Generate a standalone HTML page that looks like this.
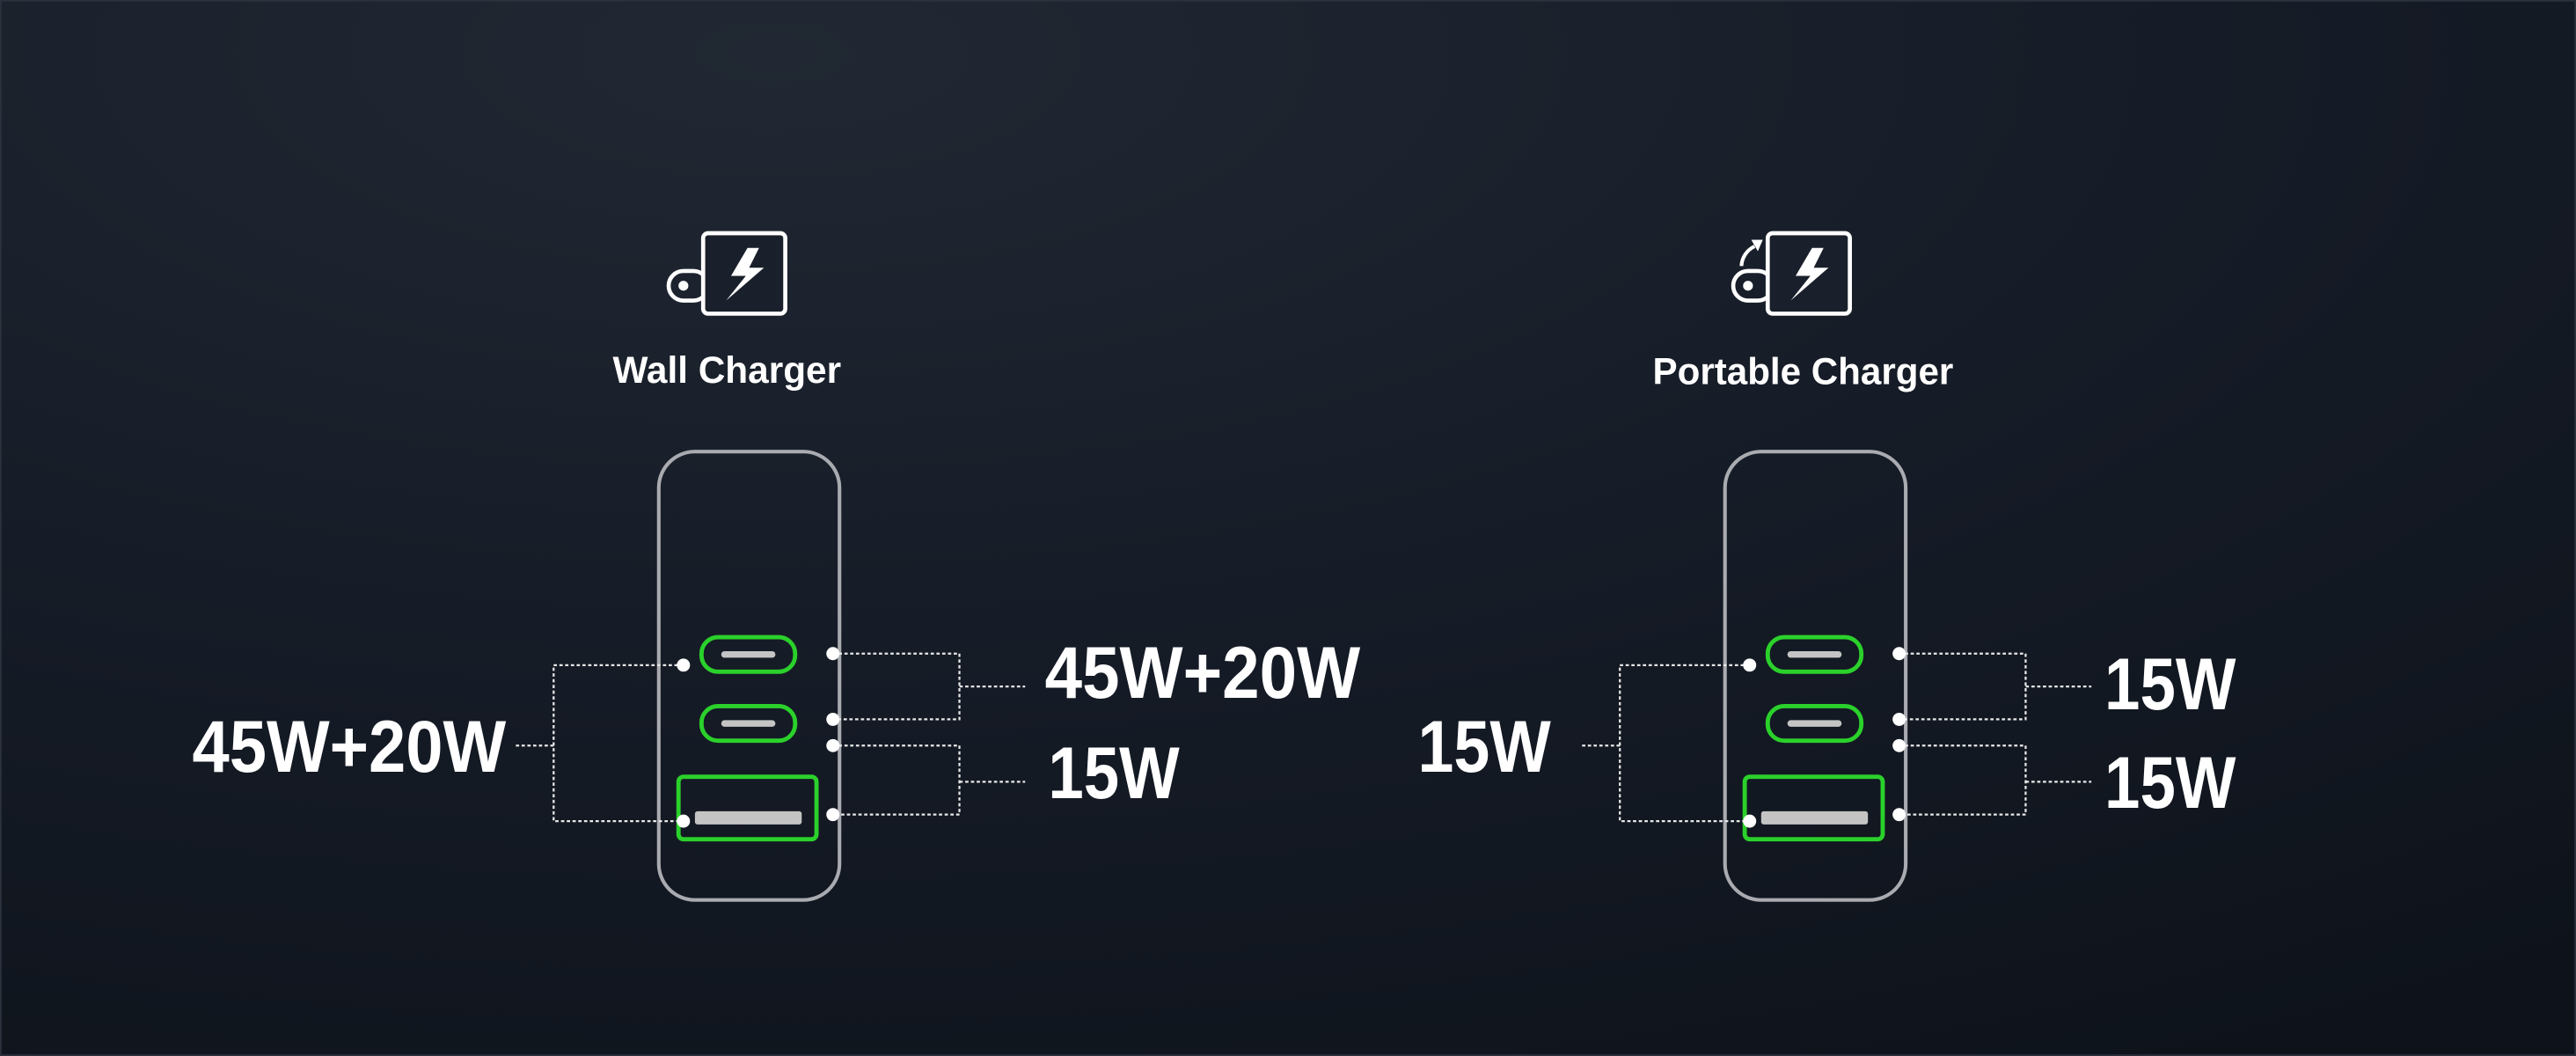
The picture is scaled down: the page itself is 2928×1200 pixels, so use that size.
<!DOCTYPE html>
<html><head><meta charset="utf-8"><style>
html,body{margin:0;padding:0;width:2928px;height:1200px;overflow:hidden;background:#141a24}
svg{display:block}
text{font-family:"Liberation Sans",sans-serif;font-weight:bold;fill:#fff}
</style></head><body>
<svg width="2928" height="1200" viewBox="0 0 1568 643" preserveAspectRatio="none" xmlns="http://www.w3.org/2000/svg">
<defs>
<radialGradient id="bg" cx="0.3" cy="0.05" r="1.1">
<stop offset="0" stop-color="#212833"/>
<stop offset="0.5" stop-color="#161c27"/>
<stop offset="1" stop-color="#0e131b"/>
</radialGradient>
<g id="plug">
<rect x="-21" y="23" width="24" height="18" rx="9" fill="none" stroke="#fff" stroke-width="2.5"/>
<circle cx="-12" cy="32" r="3" fill="#fff"/>
<rect x="0" y="0" width="50" height="49" rx="3" fill="#1a202b" stroke="#fff" stroke-width="2.5"/>
<polygon points="27,9 17,26 26,26 14,41 37,21 28,21 34,9" fill="#fff"/>
</g>
<g id="body">
<rect x="0" y="0" width="110" height="273" rx="22" fill="none" stroke="#a9abb0" stroke-width="2.2"/>
<rect x="26" y="113" width="57" height="21" rx="10" fill="none" stroke="#2bd12b" stroke-width="2.6"/>
<rect x="38" y="121.5" width="33" height="4" rx="2" fill="#c4c4c4"/>
<rect x="26" y="155" width="57" height="21" rx="10" fill="none" stroke="#2bd12b" stroke-width="2.6"/>
<rect x="38" y="163.5" width="33" height="4" rx="2" fill="#c4c4c4"/>
<rect x="12" y="198" width="84" height="38" rx="3" fill="none" stroke="#2bd12b" stroke-width="2.6"/>
<rect x="22" y="219" width="65" height="8" rx="1.5" fill="#c4c4c4"/>
<g stroke="#e8e8e8" stroke-width="1.2" stroke-dasharray="2,1.5" fill="none">
<polyline points="15,130 -64,130 -64,225 15,225"/>
<line x1="-64" y1="179" x2="-88" y2="179"/>
<polyline points="106,123 183,123 183,163 106,163"/>
<polyline points="106,179 183,179 183,221 106,221"/>
<line x1="183" y1="143" x2="223" y2="143"/>
<line x1="183" y1="201" x2="223" y2="201"/>
</g>
<g fill="#fff">
<circle cx="15" cy="130" r="4"/><circle cx="15" cy="225" r="4"/>
<circle cx="106" cy="123" r="4"/><circle cx="106" cy="163" r="4"/>
<circle cx="106" cy="179" r="4"/><circle cx="106" cy="221" r="4"/>
</g>
</g>
</defs>
<rect width="1568" height="643" fill="url(#bg)"/>
<rect x="0.5" y="0.5" width="1567" height="642" fill="none" stroke="#2a313c" stroke-width="1"/>

<use href="#plug" x="428" y="142"/>
<text x="373" y="233" font-size="23" textLength="139" lengthAdjust="spacingAndGlyphs">Wall Charger</text>
<use href="#body" x="401" y="275"/>
<text x="117" y="470" font-size="45" textLength="191" lengthAdjust="spacingAndGlyphs">45W+20W</text>
<text x="636" y="425" font-size="45" textLength="192" lengthAdjust="spacingAndGlyphs">45W+20W</text>
<text x="638" y="486" font-size="45" textLength="80" lengthAdjust="spacingAndGlyphs">15W</text>

<use href="#plug" x="1076" y="142"/>
<path d="M1060,162 A14,14 0 0 1 1068,150" fill="none" stroke="#fff" stroke-width="2.2"/>
<polygon points="1066,146 1073,146 1070,153" fill="#fff"/>
<text x="1006" y="234" font-size="23" textLength="183" lengthAdjust="spacingAndGlyphs">Portable Charger</text>
<use href="#body" x="1050" y="275"/>
<text x="863" y="470" font-size="45" textLength="81" lengthAdjust="spacingAndGlyphs">15W</text>
<text x="1281" y="432" font-size="45" textLength="80" lengthAdjust="spacingAndGlyphs">15W</text>
<text x="1281" y="492" font-size="45" textLength="80" lengthAdjust="spacingAndGlyphs">15W</text>
</svg>
</body></html>
